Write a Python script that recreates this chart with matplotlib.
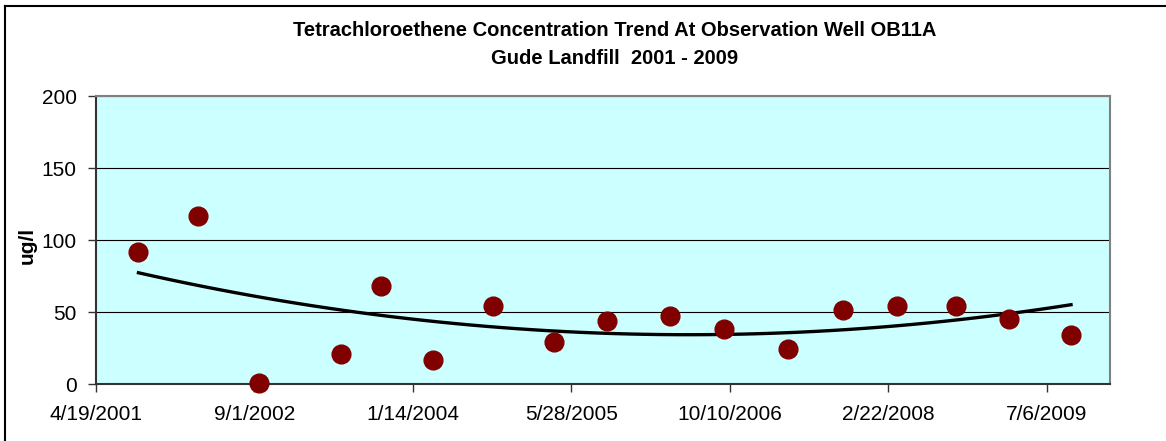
import matplotlib.pyplot as plt
import numpy as np
import pandas as pd
from matplotlib.lines import Line2D

plt.rcParams['font.family'] = ['Liberation Sans', 'DejaVu Sans']

# sample dates as Excel serial numbers, concentration in ug/l
sample_serial = [37134, 37323, 37515, 37772, 37900, 38065, 38252, 38446, 38613,
                 38810, 38983, 39185, 39358, 39529, 39713, 39880, 40077]
conc = [91.5, 117, 0.5, 21, 68, 16.5, 54.5, 29, 43.5,
        47.5, 38, 24.5, 51.5, 54.5, 54.5, 45, 34]
tick_labels = ["4/19/2001", "9/1/2002", "1/14/2004", "5/28/2005",
               "10/10/2006", "2/22/2008", "7/6/2009"]

dates = pd.to_datetime(sample_serial, unit="D", origin="1899-12-30")
ticks = pd.to_datetime(tick_labels, format="%m/%d/%Y")

# 2nd order polynomial trendline like excel
days = np.array(sample_serial, dtype=float)
coef = np.polyfit(days, conc, 2)
trend_x = np.linspace(days[0], days[-1], 60)
trend_y = np.polyval(coef, trend_x)
trend_dates = pd.to_datetime(trend_x, unit="D", origin="1899-12-30")

fig = plt.figure(figsize=(11.66, 4.41), dpi=100)
ax = fig.add_axes([96 / 1166, 1 - 384 / 441, (1110 - 96) / 1166, (384 - 96) / 441])
ax.set_facecolor("#CCFFFF")

ax.plot(trend_dates, trend_y, color="black", lw=2.4, zorder=3)
ax.plot(dates, conc, "o", color="#800000", ms=13.5, zorder=4, clip_on=False)

ax.set_ylim(0, 200)
ax.set_yticks([0, 50, 100, 150, 200])
ax.set_xlim(pd.Timestamp("2001-04-19"), pd.Timestamp("2001-04-19") + pd.Timedelta(days=3200))
ax.set_xticks(ticks)
ax.set_xticklabels(tick_labels)
ax.yaxis.grid(True, color="black", lw=0.8)
ax.set_axisbelow(True)
ax.tick_params(axis="both", labelsize=15, length=6, width=1, color="#333333", direction="out")
ax.tick_params(axis="y", pad=8)
ax.tick_params(axis="x", pad=9)
for s in ax.spines.values():
    s.set_color("#808080")
    s.set_linewidth(1.5)
ax.spines["left"].set_color("#333333")
ax.spines["bottom"].set_color("#333333")

ax.set_ylabel("ug/l", fontsize=15, fontweight="bold")
ax.yaxis.set_label_coords(-0.058, 0.48)

fig.text(0.527, 1 - 31 / 441, "Tetrachloroethene Concentration Trend At Observation Well OB11A",
         ha="center", va="center", fontsize=14.5, fontweight="bold")
fig.text(0.527, 1 - 59 / 441, "Gude Landfill  2001 - 2009",
         ha="center", va="center", fontsize=14.5, fontweight="bold")

# chart border (left and top visible)
fig.add_artist(Line2D([4.5 / 1166, 4.5 / 1166], [0, 1 - 6 / 441], color="black", lw=1.5, transform=fig.transFigure))
fig.add_artist(Line2D([4.5 / 1166, 1], [1 - 6 / 441, 1 - 6 / 441], color="black", lw=1.5, transform=fig.transFigure))

fig.savefig("out.png", dpi=100)
